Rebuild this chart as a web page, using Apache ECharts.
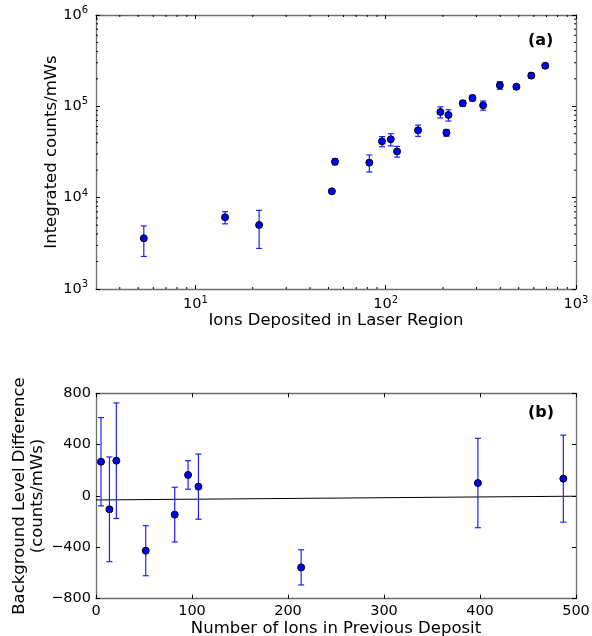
<!DOCTYPE html>
<html>
<head>
<meta charset="utf-8">
<script src="https://cdn.jsdelivr.net/npm/echarts@6/dist/echarts.min.js"></script>
<style>
  html, body { margin: 0; padding: 0; background: #fff; }
  #chart { width: 592px; height: 636px; }
</style>
</head>
<body>
<div id="chart"></div>
<script>
// Panel (a): integrated counts versus ions deposited (log-log)
const ionsA   = [5.35, 14.3, 21.6, 52.1, 54.1, 82.0, 95.6, 106.3, 114.7, 147.9,
                 193.8, 208.4, 213.5, 254, 285.6, 325, 398, 486, 582, 689];
const countsA = [3590, 6100, 5020, 11750, 24800, 24200, 41400, 43500, 32100, 54600,
                 86700, 51400, 80400, 108000, 123300, 102600, 169900, 164000, 217000, 278500];
const errA    = [1320, 930, 2240, 500, 1900, 5100, 5250, 6650, 4300, 7700,
                 12000, 4400, 11400, 8000, 9000, 11800, 16300, 9500, 13500, 16500];

// Panel (b): background level difference versus ions in previous deposit
const ionsB = [5.2, 14.0, 21.2, 51.8, 82.0, 95.9, 106.7, 213.7, 397.8, 486.8];
const diffB = [267, -104, 275, -426, -145, 164, 73, -556, 101, 135];
const errB  = [344, 408, 450, 195, 213, 111, 254, 137, 348, 339];

// Straight-line fit through panel (b)
const fitX = [0, 500];
const fitY = [-31, -1.5];

// Axis ranges and ticks
const xRangeA = [3, 1000];
const yRangeA = [1e3, 1e6];
const xMinorA = [4, 5, 6, 7, 8, 9, 20, 30, 40, 50, 60, 70, 80, 90,
                 200, 300, 400, 500, 600, 700, 800, 900];
const yMinorA = [2e3, 3e3, 4e3, 5e3, 6e3, 7e3, 8e3, 9e3,
                 2e4, 3e4, 4e4, 5e4, 6e4, 7e4, 8e4, 9e4,
                 2e5, 3e5, 4e5, 5e5, 6e5, 7e5, 8e5, 9e5];
const xRangeB = [0, 500], xStepB = 100;
const yRangeB = [-800, 800], yStepB = 400;

const FONT = 'DejaVu Sans';
const SPINE = '#6e6e6e';
const MARK = '#0000ff';
const BAR = '#2020ff';

function powLabel(v) {
  const e = Math.round(Math.log10(v));
  if (Math.abs(Math.log10(v) - e) > 1e-6) return '';
  return '{b|10}{s|' + e + '}';
}
const powRich = {
  b: { fontFamily: FONT, fontSize: 14.5, color: '#000' },
  s: { fontFamily: FONT, fontSize: 10, color: '#000', padding: [0, 0, 9, 0] }
};
const minusFmt = v => String(v).replace('-', '\u2212');

function frameAxis(extra) {
  return Object.assign({
    nameMoveOverlap: false,
    axisLine: { show: true, onZero: false, lineStyle: { color: SPINE, width: 1.3 } },
    axisTick: { show: true, inside: true, length: 4, lineStyle: { color: '#000', width: 1 } },
    splitLine: { show: false },
    minorTick: { show: false },
  }, extra);
}

function errorBarItem(params, api) {
  const x = api.value(0), lo = api.value(1), hi = api.value(2);
  const top = api.coord([x, hi]);
  const bot = api.coord([x, lo]);
  const w = 3;
  const style = { stroke: BAR, lineWidth: 1.2 };
  return {
    type: 'group',
    children: [
      { type: 'line', shape: { x1: top[0], y1: top[1], x2: bot[0], y2: bot[1] }, style },
      { type: 'line', shape: { x1: top[0] - w, y1: top[1], x2: top[0] + w, y2: top[1] }, style },
      { type: 'line', shape: { x1: bot[0] - w, y1: bot[1], x2: bot[0] + w, y2: bot[1] }, style }
    ]
  };
}

// Short inward minor ticks on all four sides of the log-log frame
function xMinorItem(params, api) {
  const r = params.coordSys;
  const px = api.coord([api.value(0), yRangeA[0]])[0];
  const style = { stroke: '#000', lineWidth: 1 };
  return { type: 'group', children: [
    { type: 'line', shape: { x1: px, y1: r.y + r.height, x2: px, y2: r.y + r.height - 2 }, style },
    { type: 'line', shape: { x1: px, y1: r.y, x2: px, y2: r.y + 2 }, style }
  ]};
}
function yMinorItem(params, api) {
  const r = params.coordSys;
  const py = api.coord([xRangeA[0], api.value(1)])[1];
  const style = { stroke: '#000', lineWidth: 1 };
  return { type: 'group', children: [
    { type: 'line', shape: { x1: r.x, y1: py, x2: r.x + 2, y2: py }, style },
    { type: 'line', shape: { x1: r.x + r.width, y1: py, x2: r.x + r.width - 2, y2: py }, style }
  ]};
}

const chart = echarts.init(document.getElementById('chart'), null, { renderer: 'canvas' });

chart.setOption({
  animation: false,
  textStyle: { fontFamily: FONT },
  grid: [
    { left: 96, top: 15, width: 480, height: 274, outerBoundsMode: 'none' },
    { left: 96, top: 393.3, width: 480, height: 205.4, outerBoundsMode: 'none' }
  ],
  xAxis: [
    frameAxis({
      gridIndex: 0, type: 'log', logBase: 10, min: xRangeA[0], max: xRangeA[1], position: 'bottom',
      name: 'Ions Deposited in Laser Region', nameLocation: 'middle', nameGap: 23,
      nameTextStyle: { fontFamily: FONT, fontSize: 16.5, color: '#000' },
      axisLabel: { show: true, margin: 6, formatter: powLabel, rich: powRich,
                   showMinLabel: false }
    }),
    frameAxis({
      gridIndex: 0, type: 'log', logBase: 10, min: xRangeA[0], max: xRangeA[1], position: 'top',
      axisLabel: { show: false }
    }),
    frameAxis({
      gridIndex: 1, type: 'value', min: xRangeB[0], max: xRangeB[1], interval: xStepB, position: 'bottom',
      name: 'Number of Ions in Previous Deposit', nameLocation: 'middle', nameGap: 22,
      nameTextStyle: { fontFamily: FONT, fontSize: 16.5, color: '#000' },
      axisLabel: { show: true, margin: 5, fontFamily: FONT, fontSize: 14.5, color: '#000' }
    }),
    frameAxis({
      gridIndex: 1, type: 'value', min: xRangeB[0], max: xRangeB[1], interval: xStepB, position: 'top',
      axisLabel: { show: false }
    })
  ],
  yAxis: [
    frameAxis({
      gridIndex: 0, type: 'log', logBase: 10, min: yRangeA[0], max: yRangeA[1], position: 'left',
      name: 'Integrated counts/mWs', nameLocation: 'middle', nameGap: 36, nameRotate: 90,
      nameTextStyle: { fontFamily: FONT, fontSize: 16.5, color: '#000' },
      axisLabel: { show: true, margin: 8, formatter: powLabel, rich: powRich }
    }),
    frameAxis({
      gridIndex: 0, type: 'log', logBase: 10, min: yRangeA[0], max: yRangeA[1], position: 'right',
      axisLabel: { show: false }
    }),
    frameAxis({
      gridIndex: 1, type: 'value', min: yRangeB[0], max: yRangeB[1], interval: yStepB, position: 'left',
      name: 'Background Level Difference\n(counts/mWs)', nameLocation: 'middle', nameGap: 49, nameRotate: 90,
      nameTextStyle: { fontFamily: FONT, fontSize: 16.5, color: '#000', lineHeight: 18.5 },
      axisLabel: { show: true, margin: 5, fontFamily: FONT, fontSize: 14.5, color: '#000', formatter: minusFmt }
    }),
    frameAxis({
      gridIndex: 1, type: 'value', min: yRangeB[0], max: yRangeB[1], interval: yStepB, position: 'right',
      axisLabel: { show: false }
    })
  ],
  series: [
    {
      type: 'custom', xAxisIndex: 0, yAxisIndex: 0, silent: true, z: 1,
      renderItem: xMinorItem, encode: { x: 0 },
      data: xMinorA.map(v => [v])
    },
    {
      type: 'custom', xAxisIndex: 0, yAxisIndex: 0, silent: true, z: 1,
      renderItem: yMinorItem, encode: { y: 1 },
      data: yMinorA.map(v => [null, v])
    },
    {
      type: 'custom', xAxisIndex: 0, yAxisIndex: 0, z: 2,
      renderItem: errorBarItem, encode: { x: 0, y: [1, 2] },
      data: ionsA.map((x, i) => [x, countsA[i] - errA[i], countsA[i] + errA[i]])
    },
    {
      type: 'scatter', xAxisIndex: 0, yAxisIndex: 0, z: 3,
      symbol: 'circle', symbolSize: 7,
      itemStyle: { color: MARK, borderColor: '#000', borderWidth: 1, opacity: 1 },
      data: ionsA.map((x, i) => [x, countsA[i]])
    },
    {
      type: 'line', xAxisIndex: 2, yAxisIndex: 2, z: 1,
      symbol: 'none', lineStyle: { color: '#000', width: 1 },
      data: fitX.map((x, i) => [x, fitY[i]])
    },
    {
      type: 'custom', xAxisIndex: 2, yAxisIndex: 2, z: 2,
      renderItem: errorBarItem, encode: { x: 0, y: [1, 2] },
      data: ionsB.map((x, i) => [x, diffB[i] - errB[i], diffB[i] + errB[i]])
    },
    {
      type: 'scatter', xAxisIndex: 2, yAxisIndex: 2, z: 3,
      symbol: 'circle', symbolSize: 7,
      itemStyle: { color: MARK, borderColor: '#000', borderWidth: 1, opacity: 1 },
      data: ionsB.map((x, i) => [x, diffB[i]])
    }
  ],
  graphic: [
    { type: 'text', left: 528, top: 33,
      style: { text: '(a)', fontFamily: FONT, fontWeight: 'bold', fontSize: 16, fill: '#000' } },
    { type: 'text', left: 528, top: 405,
      style: { text: '(b)', fontFamily: FONT, fontWeight: 'bold', fontSize: 16, fill: '#000' } }
  ]
});
</script>
</body>
</html>
